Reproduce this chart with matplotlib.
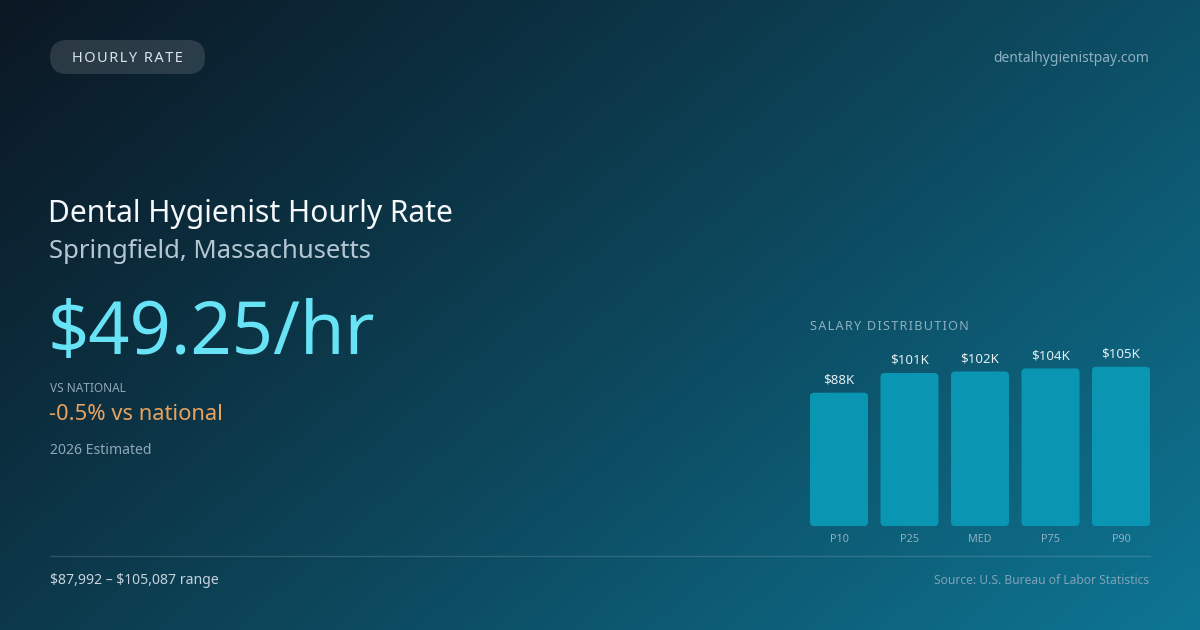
import matplotlib.pyplot as plt
import numpy as np
from matplotlib.patches import FancyBboxPatch

plt.rcParams['font.family'] = ['Noto Sans', 'DejaVu Sans']

# data
labels = ['P10', 'P25', 'MED', 'P75', 'P90']
values = [87.992, 101.0, 102.0, 104.0, 105.087]   # $K
value_labels = ['$88K', '$101K', '$102K', '$104K', '$105K']
title = 'Dental Hygienist Hourly Rate'
location = 'Springfield, Massachusetts'
hourly = '$49.25/hr'
vs_nat = '-0.5% vs national'
range_txt = '$87,992 \u2013 $105,087 range'

W, H = 1200, 630
fig = plt.figure(figsize=(12, 6.3), dpi=100)

# background gradient
bg = fig.add_axes([0, 0, 1, 1])
xx, yy = np.meshgrid(np.linspace(0, 1, 300), np.linspace(0, 1, 160))
t = np.clip(0.62 * xx + 0.38 * yy, 0, 1)
c0 = np.array([11, 24, 36]) / 255
c1 = np.array([14, 118, 148]) / 255
img = c0 + (c1 - c0) * t[..., None] ** 1.1
bg.imshow(img, extent=[0, W, H, 0], aspect='auto', interpolation='bilinear')
bg.set_xlim(0, W)
bg.set_ylim(H, 0)
bg.axis('off')

# pill
pill = FancyBboxPatch((50, 40), 155, 34, boxstyle='round,pad=0,rounding_size=17',
                      fc=(1, 1, 1, 0.13), ec='none')
bg.add_patch(pill)
bg.text(127.5, 58, '\u200a'.join('HOURLY RATE'), color='#dbe4ea', fontsize=10.5,
        ha='center', va='center')
bg.text(1149, 58, 'dentalhygienistpay.com', color='#8fb0c2', fontsize=10,
        ha='right', va='center')

bg.text(48, 214, title, color='#f5f8fa', fontsize=21.6, ha='left', va='center')
bg.text(49, 251, location, color='#b3c6d2', fontsize=18.5, ha='left', va='center')
bg.text(47, 335, hourly, color='#67e3f5', fontsize=52, ha='left', va='center')
bg.text(50, 388, 'VS NATIONAL', color='#8ea7b6', fontsize=8.5, ha='left', va='center')
bg.text(49, 415, vs_nat, color='#e9a25e', fontsize=15.8, ha='left', va='center')
bg.text(50, 450, '2026 Estimated', color='#8ea7b6', fontsize=10.1, ha='left', va='center')

bg.text(810, 326, '\u200a'.join('SALARY DISTRIBUTION'), color='#8fb0c2', fontsize=9.1,
        ha='left', va='center')

bg.plot([50, 1150], [556, 556], color=(1, 1, 1, 0.14), lw=1)
bg.text(50, 581, range_txt, color='#c5d3dc', fontsize=10.1, ha='left', va='center',
        parse_math=False)
bg.text(1149, 581, 'Source: U.S. Bureau of Labor Statistics', color='#7fa3b6', fontsize=8.7,
        ha='right', va='center')

# bars
px_per_k = 1.515
ymax = 112
bh = ymax * px_per_k
ax = fig.add_axes([810 / W, (H - 526) / H, 340 / W, bh / H])
ax.set_facecolor('none')
width = 0.823
ax.set_xlim(-0.5 + (1 - width) / 2, len(values) - 0.5 - (1 - width) / 2)
ax.set_ylim(0, ymax)
ax.axis('off')
bars = ax.bar(range(len(values)), values, width=width, color='none')
# pixel/data aspect for rounded corners
xunit = 340 / (ax.get_xlim()[1] - ax.get_xlim()[0])
yunit = px_per_k
r = 4 / xunit
for b, vl in zip(bars, value_labels):
    x0, w, h = b.get_x(), b.get_width(), b.get_height()
    p = FancyBboxPatch((x0 + r, r * xunit / yunit), w - 2 * r, h - 2 * r * xunit / yunit,
                       boxstyle=f'round,pad={r},rounding_size={r}',
                       mutation_aspect=xunit / yunit,
                       fc='#0a99b6', ec='none', alpha=0.95)
    ax.add_patch(p)
    ax.text(x0 + w / 2, h + 6 / yunit, vl, color='#e3edf2', fontsize=9.6,
            ha='center', va='bottom')
for i, lab in enumerate(labels):
    ax.text(i, -13 / yunit, lab, color='#8fb0c2', fontsize=7.8, ha='center', va='center')

fig.savefig('out.png', dpi=100)
